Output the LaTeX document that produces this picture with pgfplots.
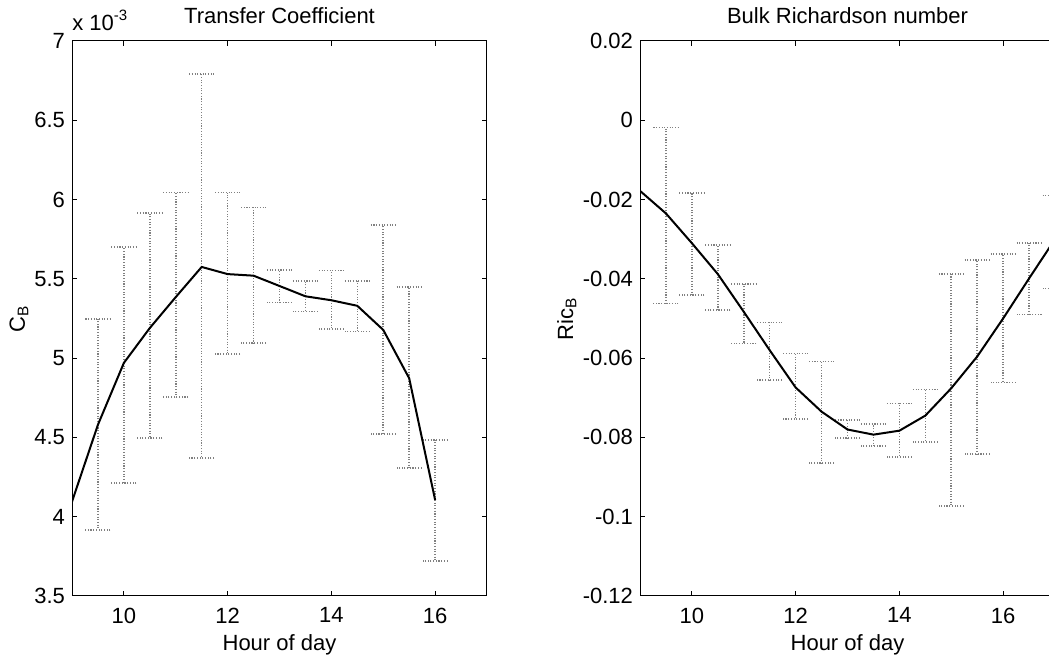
\documentclass[border=0pt]{standalone}
\usepackage{pgfplots}
\pgfplotsset{compat=1.18}
\usepackage{fontspec}
\setmainfont{Liberation Sans}
\begin{document}
\begin{tikzpicture}[font=\fontsize{11}{13}\selectfont]
\useasboundingbox (0,0) rectangle (524.5pt,328.5pt);
\clip (0,0) rectangle (524.5pt,328.5pt);
\pgfplotsset{
  mystyle/.style={
    scale only axis, width=207.5pt, height=277.5pt,
    xmin=9, xmax=17,
    xtick={10,12,14,16}, xticklabels={10,12,14,16},
    tick align=inside, major tick length=2.5pt,
    axis line style={line width=0.5pt, black},
    tick style={line width=0.5pt, black},
    every tick label/.append style={font=\fontsize{11}{13}\selectfont},
    label style={font=\fontsize{11}{13}\selectfont},
    every axis title/.style={font=\fontsize{11}{13}\selectfont, at={(0.5,1)}, anchor=base, yshift=8.5pt},
    xlabel={Hour of day},
    xlabel style={at={(axis description cs:0.5,0)}, anchor=base, yshift=-27.5pt},
    xticklabel style={yshift=-2.3pt},
  },
  ebar/.style={draw=none, mark=none, forget plot,
    error bars/.cd, y dir=both, y explicit, error mark=|,
    error bar style={draw=black!50, line width=0.8pt, dash pattern=on 0.55pt off 0.8pt},
    error mark options={draw=black!50, line width=0.8pt, dash pattern=on 0.55pt off 0.8pt, mark size=6.25pt}},
  meanline/.style={black, line width=1pt, mark=none},
}
\begin{axis}[mystyle, at={(36pt,30.5pt)}, anchor=south west,
  ymin=3.5, ymax=7,
  ytick={3.5,4,4.5,5,5.5,6,6.5,7}, yticklabels={3.5,4,4.5,5,5.5,6,6.5,7},
  title={Transfer Coefficient},
  ylabel={C\textsubscript{B}},
  ylabel style={at={([xshift=-23.5pt]axis description cs:0,0.5)}, anchor=base},
  extra description/.code={\node[anchor=base west, inner sep=0pt] at (0,1) [yshift=5pt] {x 10\raisebox{5pt}{\fontsize{7.5}{9}\selectfont -3}};},
]
\addplot[ebar] table[x=x, y=y, y error plus expr=\thisrow{hi}-\thisrow{y}, y error minus expr=\thisrow{y}-\thisrow{lo}] {
x y hi lo
9.5 4.58 5.245 3.917
10 4.97 5.699 4.211
10.5 5.19 5.915 4.495
11 5.385 6.045 4.755
11.5 5.575 6.79 4.369
12 5.53 6.044 5.026
12.5 5.52 5.951 5.094
13 5.455 5.556 5.352
13.5 5.39 5.487 5.293
14 5.365 5.552 5.184
14.5 5.33 5.487 5.167
15 5.178 5.838 4.52
15.5 4.873 5.447 4.306
16 4.106 4.484 3.721
};
\addplot[meanline] coordinates {
(9,4.095) (9.5,4.58) (10,4.97) (10.5,5.19) (11,5.385) (11.5,5.575) (12,5.53) (12.5,5.52)
(13,5.455) (13.5,5.39) (14,5.365) (14.5,5.33) (15,5.178) (15.5,4.873) (16,4.106)
};
\end{axis}
\begin{axis}[mystyle, at={(320pt,30.5pt)}, anchor=south west,
  ymin=-0.12, ymax=0.02,
  ytick={-0.12,-0.1,-0.08,-0.06,-0.04,-0.02,0,0.02},
  yticklabels={-0.12,-0.1,-0.08,-0.06,-0.04,-0.02,0,0.02},
  title={Bulk Richardson number},
  ylabel={Ric\textsubscript{B}},
  ylabel style={at={([xshift=-33.5pt]axis description cs:0,0.5)}, anchor=base},
]
\addplot[ebar] table[x=x, y=y, y error plus expr=\thisrow{hi}-\thisrow{y}, y error minus expr=\thisrow{y}-\thisrow{lo}] {
x y hi lo
9.5 -0.0235 -0.0018 -0.0462
10 -0.031 -0.0183 -0.0441
10.5 -0.0388 -0.0315 -0.0479
11 -0.0483 -0.0413 -0.0563
11.5 -0.058 -0.051 -0.0655
12 -0.0674 -0.0588 -0.0754
12.5 -0.0735 -0.0608 -0.0865
13 -0.078 -0.0756 -0.0802
13.5 -0.0793 -0.0766 -0.0821
14 -0.0783 -0.0714 -0.0849
14.5 -0.0745 -0.0679 -0.0811
15 -0.0676 -0.0388 -0.0973
15.5 -0.0596 -0.0352 -0.0842
16 -0.050 -0.0337 -0.0661
16.5 -0.0399 -0.031 -0.049
17 -0.030 -0.019 -0.0424
};
\addplot[meanline] coordinates {
(9,-0.0178) (9.5,-0.0235) (10,-0.031) (10.5,-0.0388) (11,-0.0483) (11.5,-0.058) (12,-0.0674)
(12.5,-0.0735) (13,-0.078) (13.5,-0.0793) (14,-0.0783) (14.5,-0.0745) (15,-0.0676)
(15.5,-0.0596) (16,-0.050) (16.5,-0.0399) (17,-0.030)
};
\end{axis}
\end{tikzpicture}
\end{document}
